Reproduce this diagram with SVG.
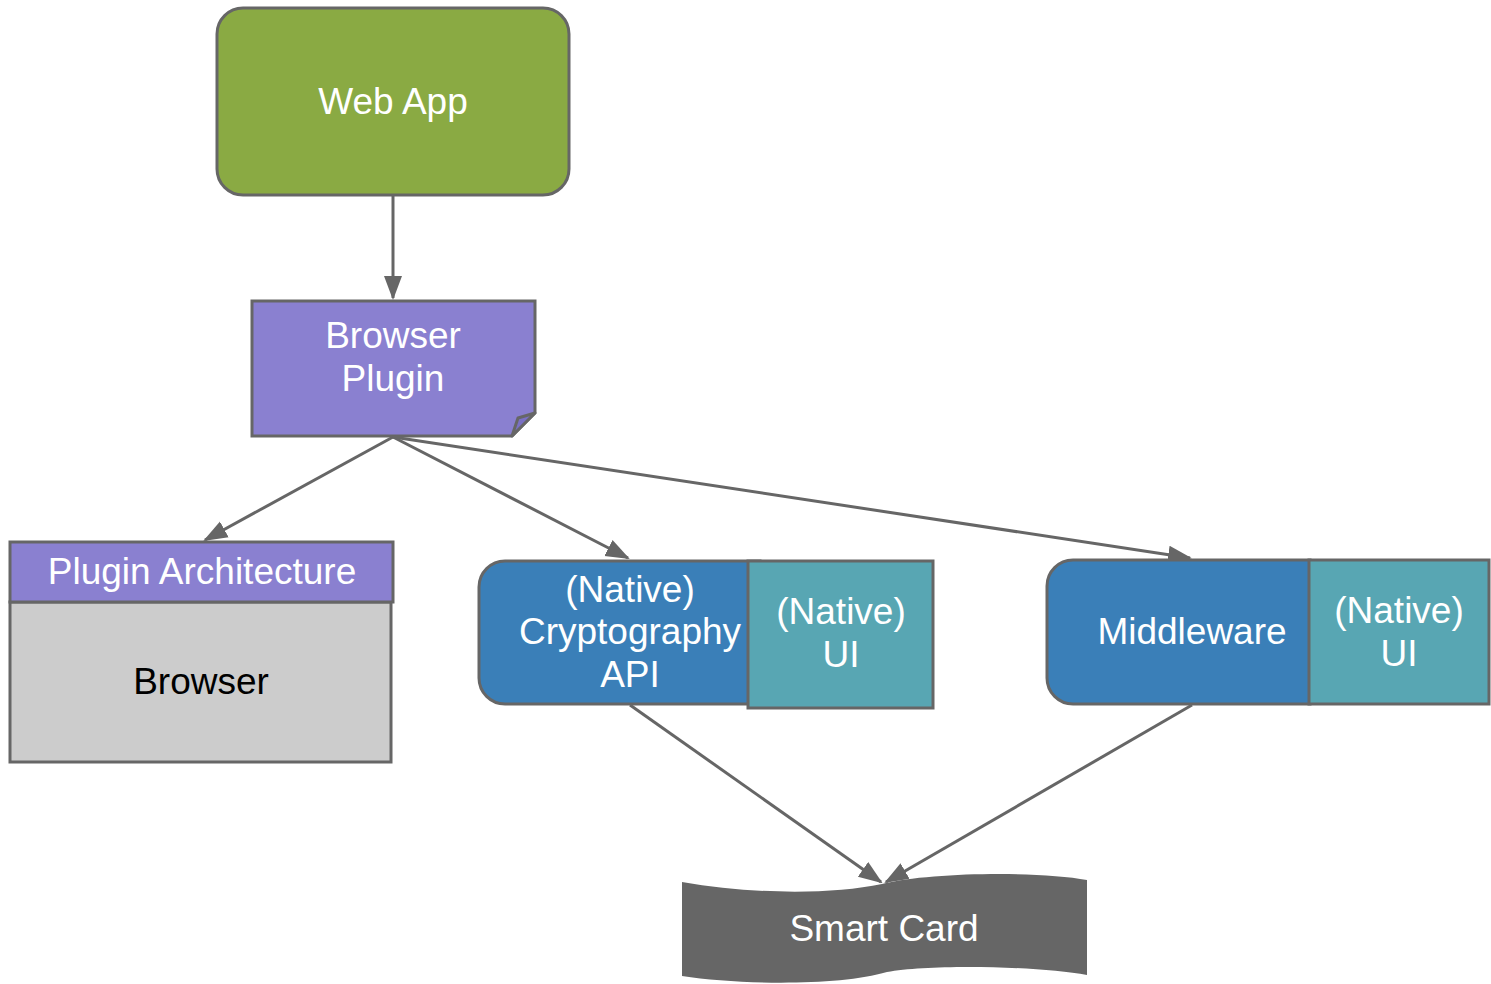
<svg xmlns="http://www.w3.org/2000/svg" width="1491" height="984" viewBox="0 0 1491 984">
  <style>
    .edge { stroke: #666666; stroke-width: 3; fill: none; marker-end: url(#arrow); }
    .box { stroke: #666666; stroke-width: 3; }
    .lbl { font-family: "Liberation Sans", Arial, sans-serif; font-size: 37px; fill: #ffffff; text-anchor: middle; }
    .dark { fill: #000000; }
  </style>
  <defs>
    <marker id="arrow" markerUnits="userSpaceOnUse" markerWidth="24" markerHeight="20" viewBox="0 0 24 20" refX="22" refY="10" orient="auto">
      <path d="M0,1 L24,10 L0,19 Z" fill="#666666"/>
    </marker>
  </defs>
  <rect width="1491" height="984" fill="#ffffff"/>

  <g id="connectors">
    <line class="edge" x1="393" y1="196" x2="393" y2="298"/>
    <line class="edge" x1="393" y1="437" x2="205" y2="540"/>
    <line class="edge" x1="393" y1="437" x2="628" y2="558"/>
    <line class="edge" x1="393" y1="437" x2="1190" y2="558"/>
    <line class="edge" x1="630" y1="705" x2="881" y2="882"/>
    <line class="edge" x1="1192" y1="705" x2="886" y2="882"/>
  </g>

  <g id="web-app">
    <rect class="box" x="217" y="8" width="352" height="187" rx="26" fill="#8aaa43"/>
    <text class="lbl" x="393" y="114">Web App</text>
  </g>

  <g id="browser-plugin">
    <path class="box" d="M252,301 L535,301 L535,413 L512,436 L252,436 Z" fill="#8a80d0"/>
    <path d="M535,413 L518,418 L512,436 Z" fill="#7a70c4" stroke="#666666" stroke-width="3" stroke-linejoin="round"/>
    <text class="lbl" x="393" y="348">Browser</text>
    <text class="lbl" x="393" y="391">Plugin</text>
  </g>

  <g id="browser">
    <rect class="box" x="10" y="602" width="381" height="160" fill="#cccccc"/>
    <rect class="box" x="10" y="542" width="383" height="60" fill="#8a80d0"/>
    <text class="lbl" x="202" y="584">Plugin Architecture</text>
    <text class="lbl dark" x="201" y="694">Browser</text>
  </g>

  <g id="crypto-api">
    <path class="box" d="M505,561 L760,561 L760,704 L505,704 A26,26 0 0 1 479,678 L479,587 A26,26 0 0 1 505,561 Z" fill="#3a7fb8"/>
    <text class="lbl" x="630" y="602">(Native)</text>
    <text class="lbl" x="630" y="644">Cryptography</text>
    <text class="lbl" x="630" y="687">API</text>
  </g>

  <g id="crypto-ui">
    <rect class="box" x="748" y="561" width="185" height="147" fill="#58a6b3"/>
    <text class="lbl" x="841" y="624">(Native)</text>
    <text class="lbl" x="841" y="667">UI</text>
  </g>

  <g id="middleware">
    <path class="box" d="M1073,560 L1310,560 L1310,704 L1073,704 A26,26 0 0 1 1047,678 L1047,586 A26,26 0 0 1 1073,560 Z" fill="#3a7fb8"/>
    <text class="lbl" x="1192" y="644">Middleware</text>
  </g>

  <g id="middleware-ui">
    <rect class="box" x="1309" y="560" width="180" height="144" fill="#58a6b3"/>
    <text class="lbl" x="1399" y="623">(Native)</text>
    <text class="lbl" x="1399" y="666">UI</text>
  </g>

  <g id="smart-card">
    <path d="M682,882 C750,894 830,895 882,884 C930,872 1040,871 1087,880 L1087,975 C1040,966 930,964 887,972 C840,986 740,985 682,976 Z" fill="#666666"/>
    <text class="lbl" x="884" y="941">Smart Card</text>
  </g>
</svg>
